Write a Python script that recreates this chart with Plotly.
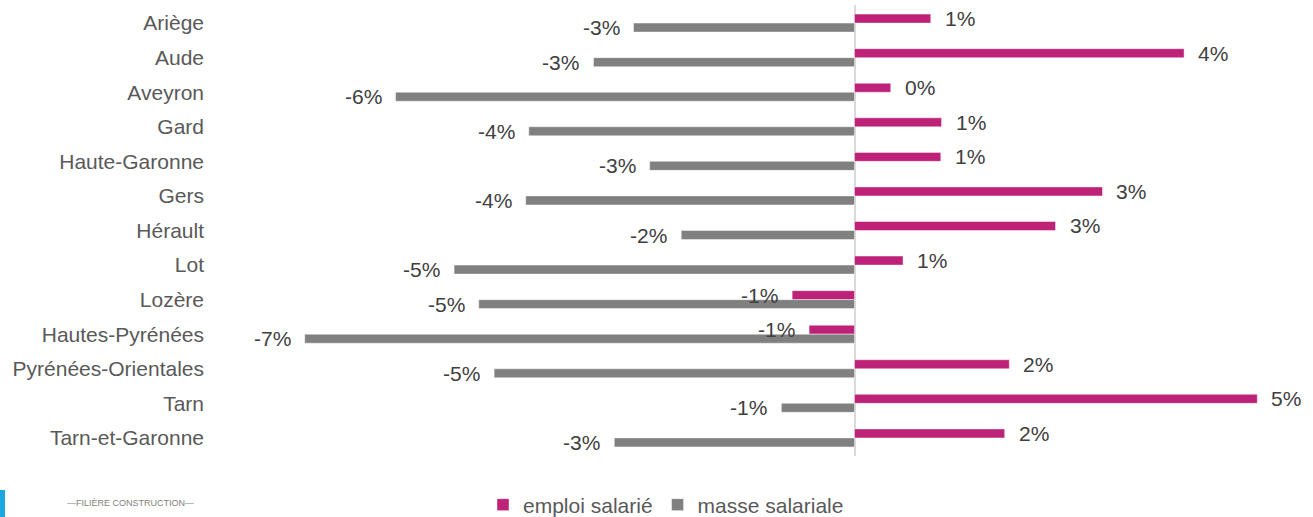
import plotly.graph_objects as go

categories = ["Ariège", "Aude", "Aveyron", "Gard", "Haute-Garonne", "Gers", "Hérault",
              "Lot", "Lozère", "Hautes-Pyrénées", "Pyrénées-Orientales", "Tarn", "Tarn-et-Garonne"]
emploi_salarie = [0.0099, 0.0428, 0.0047, 0.0113, 0.0112, 0.0322, 0.0261,
                  0.0063, -0.0081, -0.0059, 0.0201, 0.0523, 0.0195]
masse_salariale = [-0.0287, -0.0339, -0.0596, -0.0423, -0.0266, -0.0427, -0.0225,
                   -0.0520, -0.0488, -0.0714, -0.0468, -0.0095, -0.0312]
series_names = ["emploi salarié", "masse salariale"]
series_colors = ["#BE2178", "#808080"]

FONT = "Liberation Sans, Arial, sans-serif"

fig = go.Figure()
for name, vals, col in zip(series_names, [emploi_salarie, masse_salariale], series_colors):
    fig.add_trace(go.Bar(
        y=categories, x=vals, name=name, orientation="h",
        marker=dict(color=col, line=dict(color="rgba(255,255,255,0.55)", width=0.8)),
        hoverinfo="x+y",
    ))

W, H = 1313, 517
L, R, T, B = 215, 8, 5, 61
pw, ph = W - L - R, H - T - B


def px_x(px):
    return (px - L) / pw


def px_y(py):
    return (H - B - py) / ph


annotations = []
for vals, ysh in [(emploi_salarie, 4.6), (masse_salariale, -4.6)]:
    for c, v in zip(categories, vals):
        pos = v >= 0
        annotations.append(dict(
            x=v, y=c, xref="x", yref="y", showarrow=False,
            text=f"{round(v * 100):.0f}%",
            xanchor="left" if pos else "right",
            xshift=12 if pos else -12, yshift=ysh,
            font=dict(family=FONT, size=21, color="#404040"),
        ))

# logo fragment bottom-left
annotations.append(dict(
    x=px_x(65), y=px_y(503), xref="paper", yref="paper", text="—FILIÈRE CONSTRUCTION—",
    showarrow=False, font=dict(family=FONT, size=9, color="#7F7F7F"),
    xanchor="left", yanchor="middle"))

fig.update_layout(
    width=W, height=H,
    margin=dict(l=L, r=R, t=T, b=B, autoexpand=False),
    paper_bgcolor="white", plot_bgcolor="white",
    barmode="group", bargap=0.48, bargroupgap=0,
    font=dict(family=FONT, size=21, color="#595959"),
    xaxis=dict(range=[-0.08305, 0.0585], showgrid=False, showticklabels=False,
               zeroline=True, zerolinecolor="#D9D9D9", zerolinewidth=1.5,
               showline=False, ticks=""),
    yaxis=dict(autorange="reversed", showgrid=False, showline=False, ticks="",
               ticklabelstandoff=10,
               tickfont=dict(family=FONT, size=21, color="#595959")),
    legend=dict(orientation="h", x=px_x(666), xanchor="center",
                yref="container", y=(H - 505) / H, yanchor="middle",
                font=dict(family=FONT, size=21, color="#595959"),
                itemwidth=30, traceorder="normal"),
    annotations=annotations,
    shapes=[dict(type="rect", xref="paper", yref="paper",
                 x0=px_x(0), x1=px_x(5), y0=px_y(517), y1=px_y(490),
                 fillcolor="#1BA8E0", line=dict(width=0), layer="above")],
)

fig.write_html("out.html", config={"displayModeBar": False},
               post_script="document.body.style.margin='0';document.body.style.overflow='hidden';")
